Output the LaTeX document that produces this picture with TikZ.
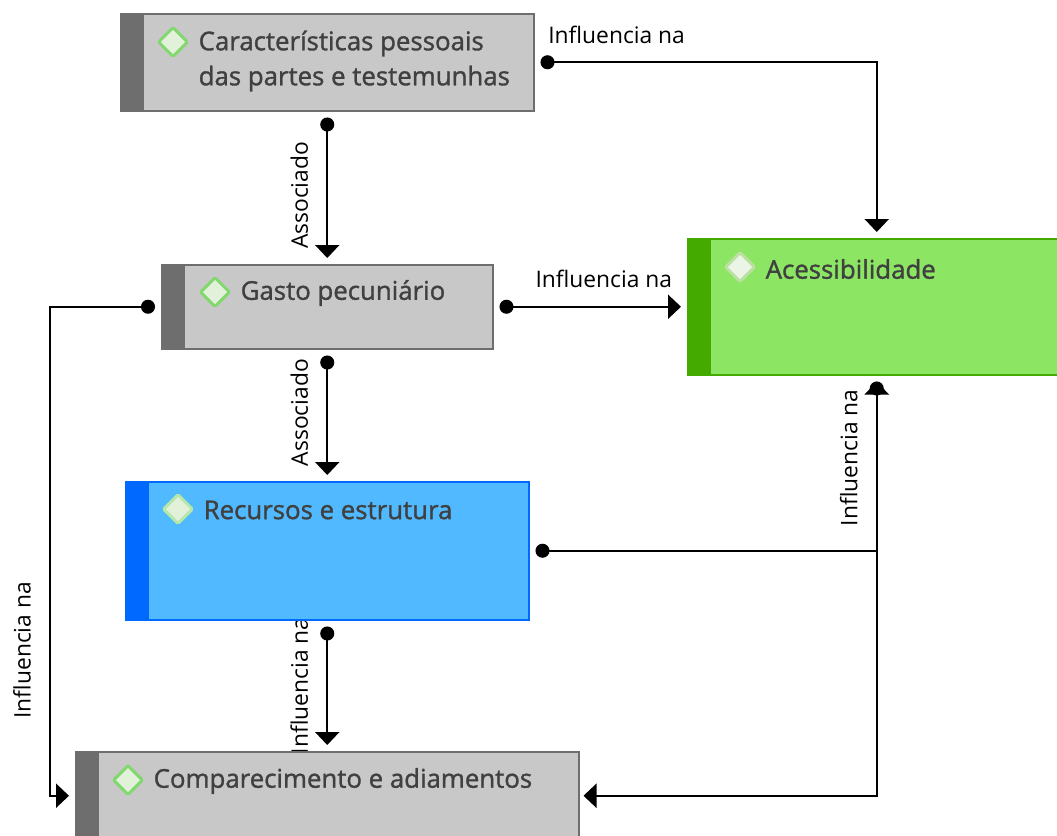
\documentclass[tikz,border=0pt]{standalone}
\usepackage{fontspec}
\setmainfont{Open Sans}
\newfontfamily\titlefont{Open Sans}[FakeBold=1.3]
\definecolor{boxgray}{RGB}{200,200,200}
\definecolor{bargray}{RGB}{110,110,110}
\definecolor{boxgreen}{RGB}{140,230,100}
\definecolor{bargreen}{RGB}{68,170,0}
\definecolor{boxblue}{RGB}{80,185,255}
\definecolor{barblue}{RGB}{0,105,255}
\definecolor{icongreen}{RGB}{130,215,110}
\definecolor{iconfill}{RGB}{226,241,218}
\definecolor{titletext}{RGB}{64,64,64}
\usetikzlibrary{arrows.meta}
\usetikzlibrary{positioning}
\usetikzlibrary{shapes.geometric,backgrounds}
\tikzset{
  box/.style={draw=#1, line width=1.5pt, anchor=north west, inner sep=0pt},
  graybox/.style={box=bargray, fill=boxgray},
  greenbox/.style={box=bargreen, fill=boxgreen},
  bluebox/.style={box=barblue, fill=boxblue},
  bar/.style={fill=#1, anchor=north west, minimum width=24pt, inner sep=0pt},
  icon/.style={diamond, aspect=1, minimum size=30pt, inner sep=0pt, line width=3pt, rounded corners=1.5pt, draw=icongreen, fill=iconfill},
  paleicon/.style={icon, draw=white!55!bargreen!80!white, fill=iconfill!70!white},
  title/.style={font=\titlefont\fontsize{25.8}{35}\selectfont, text=titletext, align=left, inner sep=0pt, yshift=-1pt, right=9pt of #1},
  link/.style={line width=2.3pt, {Circle[length=14pt]}-{Triangle[length=13pt,width=24pt]}, shorten <=6pt, shorten >=6pt},
  linklabel/.style={font=\fontsize{22.8}{27}\selectfont, text=black, inner sep=0pt},
}

\begin{document}
\begin{tikzpicture}[x=1pt,y=-1pt]
  \useasboundingbox (1,1) rectangle (1058,836);

  % boxes
  \node[graybox, minimum width=413pt, minimum height=97pt] (carac) at (121,14) {};
  \node[bar=bargray, minimum height=97pt] at (carac.north west) {};
  \node[icon] (caracicon) at (174,43) {};
  \node[title=caracicon, yshift=-18pt] (caractext) {Características pessoais\\das partes e testemunhas};

  \node[graybox, minimum width=331pt, minimum height=84pt] (gasto) at (162,265) {};
  \node[bar=bargray, minimum height=84pt] at (gasto.north west) {};
  \node[icon] (gastoicon) at (216,293) {};
  \node[title=gastoicon] (gastotext) {Gasto pecuniário};

  \node[greenbox, minimum width=378pt, minimum height=136pt] (acess) at (688,239) {};
  \node[bar=bargreen, minimum height=136pt] at (acess.north west) {};
  \node[paleicon] (acessicon) at (741,268) {};
  \node[title=acessicon, yshift=-1pt] (acesstext) {Acessibilidade};

  \node[bluebox, minimum width=403pt, minimum height=138pt] (recursos) at (126,482) {};
  \node[bar=barblue, minimum height=138pt] at (recursos.north west) {};
  \node[icon, draw=white!40!icongreen] (recursosicon) at (179,510) {};
  \node[title=recursosicon] (recursostext) {Recursos e estrutura};

  \node[graybox, minimum width=503pt, minimum height=88pt] (compar) at (76,752) {};
  \node[bar=bargray, minimum height=88pt] at (compar.north west) {};
  \node[icon] (comparicon) at (129,781) {};
  \node[title=comparicon] (compartext) {Comparecimento e adiamentos};

  \coordinate (leftrun) at (51,500);

  \begin{scope}[on background layer]
    \draw [link] (carac.east) -| node[linklabel, pos=0.12, above=17pt] {Influencia na} (acess.north);
    \draw [link] (carac.south) to node[linklabel, pos=0.55, rotate=90, left=28pt, anchor=center] {Associado} (gasto.north);
    \draw [link] (gasto.east) to node[linklabel, pos=0.57, above=18pt] {Influencia na} (acess.west);
    \draw [link] (gasto.west) -| (leftrun) |- node[linklabel, pos=0.255, rotate=90, left=28pt, anchor=center] {Influencia na} (compar.west);
    \draw [link] (gasto.south) to node[linklabel, pos=0.48, rotate=90, left=28pt, anchor=center] {Associado} (recursos.north);
    \draw [link] (recursos.east) -| node[linklabel, pos=0.765, rotate=90, left=28pt, anchor=center] {Influencia na} (acess.south);
    \draw [link] (recursos.south) to node[linklabel, pos=0.5, rotate=90, left=28pt, anchor=center] {Influencia na} (compar.north);
    \draw [link, shorten >=4pt] (acess.south) |- (compar.east);
  \end{scope}
\end{tikzpicture}
\end{document}
